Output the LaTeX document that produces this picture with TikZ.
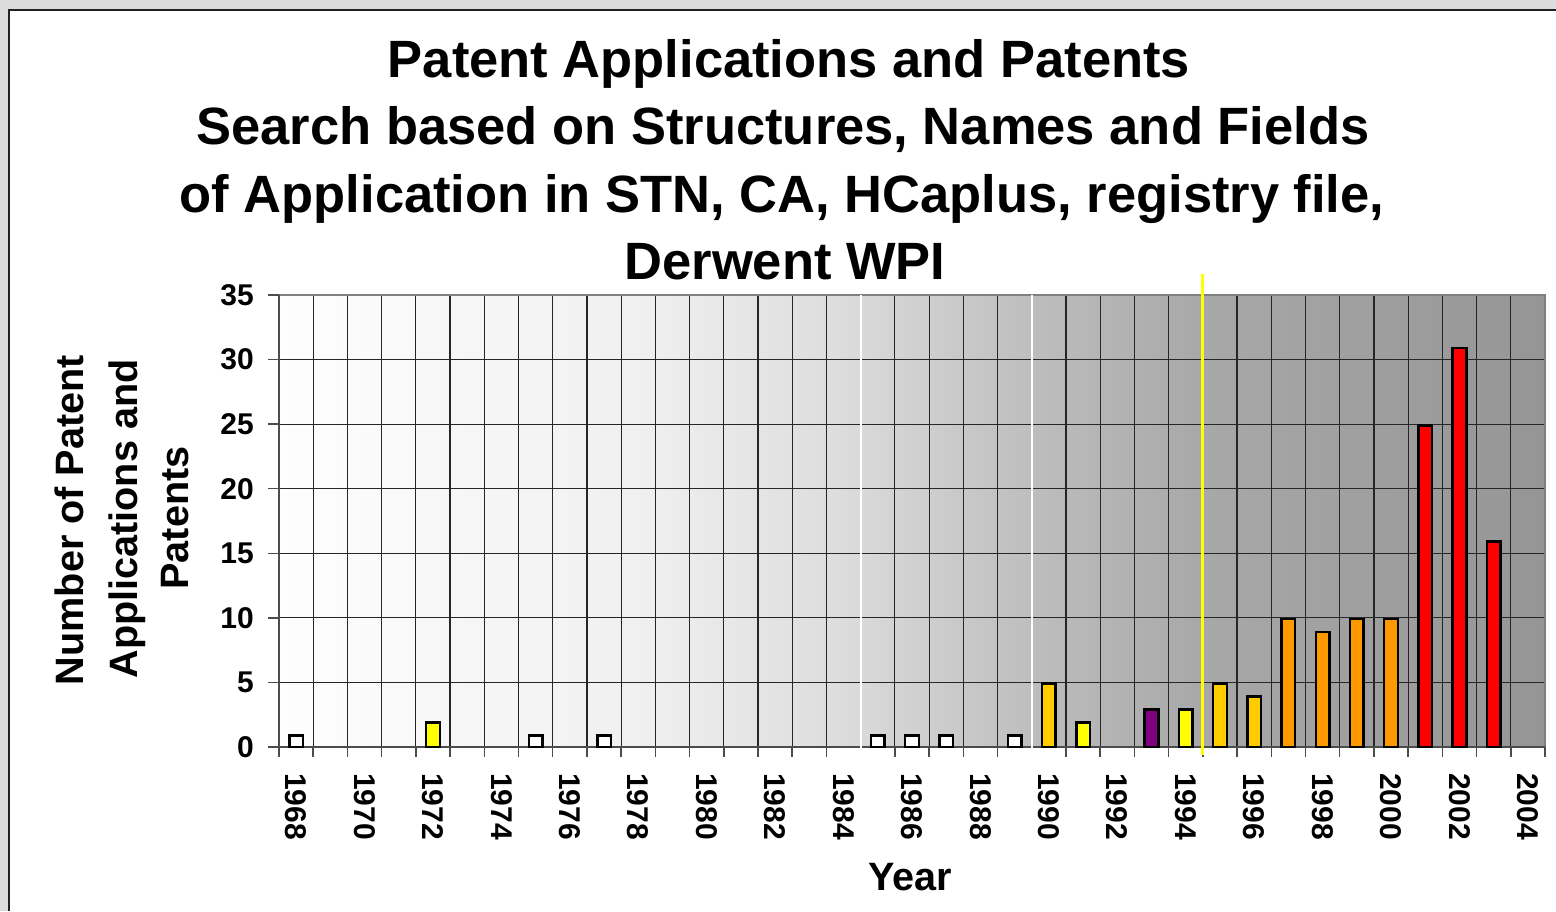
\documentclass[tikz,border=0pt]{standalone}
\usepackage{fontspec}
\setmainfont{Liberation Sans}

\definecolor{framegray}{HTML}{DCDCDC}
\definecolor{frameline}{HTML}{222222}
\definecolor{baryellow}{HTML}{FFFF00}
\definecolor{bargold}{HTML}{FFCC00}
\definecolor{barpurple}{HTML}{800080}
\definecolor{barorange}{HTML}{FF9900}
\definecolor{barred}{HTML}{FF0000}
\definecolor{fadeA}{gray}{0.995}
\definecolor{fadeB}{gray}{0.94}
\definecolor{fadeC}{gray}{0.87}
\definecolor{fadeD}{gray}{0.74}
\definecolor{fadeE}{gray}{0.66}
\definecolor{fadeF}{gray}{0.585}
% tikz stretches the middle 50bp over the path
\pgfdeclarehorizontalshading{plotfade}{100bp}{color(0bp)=(fadeA); color(25bp)=(fadeA); color(39.25bp)=(fadeB); color(46.75bp)=(fadeC); color(55bp)=(fadeD); color(61.35bp)=(fadeE); color(75bp)=(fadeF); color(100bp)=(fadeF)}

\newcommand{\titlefont}{\fontsize{52.5}{67}\selectfont\bfseries}
\newcommand{\labelfont}{\fontsize{39.6}{52}\selectfont\bfseries}
\newcommand{\tickfont}{\fontsize{30}{36}\selectfont\bfseries}

\tikzset{
  gridline/.style={black!85, line width=1.2pt},
  axisline/.style={black!70, line width=2pt},
  barbox/.style={draw=black, line width=2.5pt},
  ticklabel/.style={inner sep=0pt, font=\tickfont},
}

\begin{document}
\begin{tikzpicture}[x=1pt,y=-1pt]
  \useasboundingbox (0,0) rectangle (1556,911);

  %% frame
  \fill[framegray] (0,0) rectangle (1556,911);
  \fill[white] (9,10) rectangle (1556,911);
  \draw[frameline, line width=2pt] (9,911) -- (9,10) -- (1556,10);

  %% title
  \node[anchor=base, inner sep=0pt, font=\titlefont] (title1) at (789,77) {Patent Applications and Patents};
  \node[anchor=base, inner sep=0pt, font=\titlefont] (title2) at (783,144.5) {Search based on Structures, Names and Fields};
  \node[anchor=base, inner sep=0pt, font=\titlefont] (title3) at (782,212) {of Application in STN, CA, HCaplus, registry file,};
  \node[anchor=base, inner sep=0pt, font=\titlefont] (title4) at (785,279.5) {Derwent WPI};

  %% plot area, one column per year (1968..2004)
  \shade[shading=plotfade] (279,295) rectangle (1545,747);
  \foreach \v in {5,10,...,30}
    \draw[gridline] (279,{747-12.914*\v}) -- (1545,{747-12.914*\v});
  \foreach \k in {1,...,36}
    \draw[gridline] ({279+34.216*\k},295) -- ({279+34.216*\k},747);
  \draw[black!50, line width=2.5pt] (279,295) -- (1545,295) -- (1545,747);

  %% axes and ticks
  \draw[axisline] (279,295) -- (279,747) -- (1545,747);
  \foreach \v in {0,5,...,35}
    \draw[axisline, line width=1.5pt] (268,{747-12.914*\v}) -- (279,{747-12.914*\v});
  \foreach \k in {0,...,37}
    \draw[axisline, line width=1.5pt] ({279+34.216*\k},747) -- ({279+34.216*\k},757);

  %% period markers
  \draw[white, line width=2pt] ({279+34.216*17},295) -- ({279+34.216*17},757);
  \draw[white, line width=2pt] ({279+34.216*22},295) -- ({279+34.216*22},757);
  \draw[baryellow, line width=3pt] ({279+34.216*27},274) -- ({279+34.216*27},755);

  %% bars
  \foreach \yr/\val/\col in {1968/1/white, 1972/2/baryellow, 1975/1/white, 1977/1/white,
      1985/1/white, 1986/1/white, 1987/1/white, 1989/1/white,
      1990/5/bargold, 1991/2/baryellow, 1993/3/barpurple, 1994/3/baryellow,
      1995/5/bargold, 1996/4/bargold, 1997/10/barorange, 1998/9/barorange,
      1999/10/barorange, 2000/10/barorange, 2001/25/barred, 2002/31/barred, 2003/16/barred}
    \draw[barbox, fill=\col] ({279+34.216*(\yr-1968+0.5)-6.8},747)
      rectangle ({279+34.216*(\yr-1968+0.5)+6.8},{747-12.914*\val+1.2});

  %% value labels
  \foreach \v in {0,5,...,35}
    \node[ticklabel, anchor=east] (val\v) at (254,{747-12.914*\v}) {\v};

  %% year labels
  \foreach \yr in {1968,1970,...,2004}
    \node[ticklabel, rotate=-90, anchor=west] (year\yr) at ({279+34.216*(\yr-1968+0.5)},773) {\yr};

  %% axis titles
  \node[anchor=base, inner sep=0pt, font=\labelfont] (xtitle) at (910,890) {Year};
  \node[anchor=base, inner sep=0pt, rotate=90, font=\labelfont] (ytitle1) at (83,520) {Number of Patent};
  \node[anchor=base, inner sep=0pt, rotate=90, font=\labelfont] (ytitle2) at (137,519) {Applications and};
  \node[anchor=base, inner sep=0pt, rotate=90, font=\labelfont] (ytitle3) at (188,518) {Patents};
\end{tikzpicture}
\end{document}
